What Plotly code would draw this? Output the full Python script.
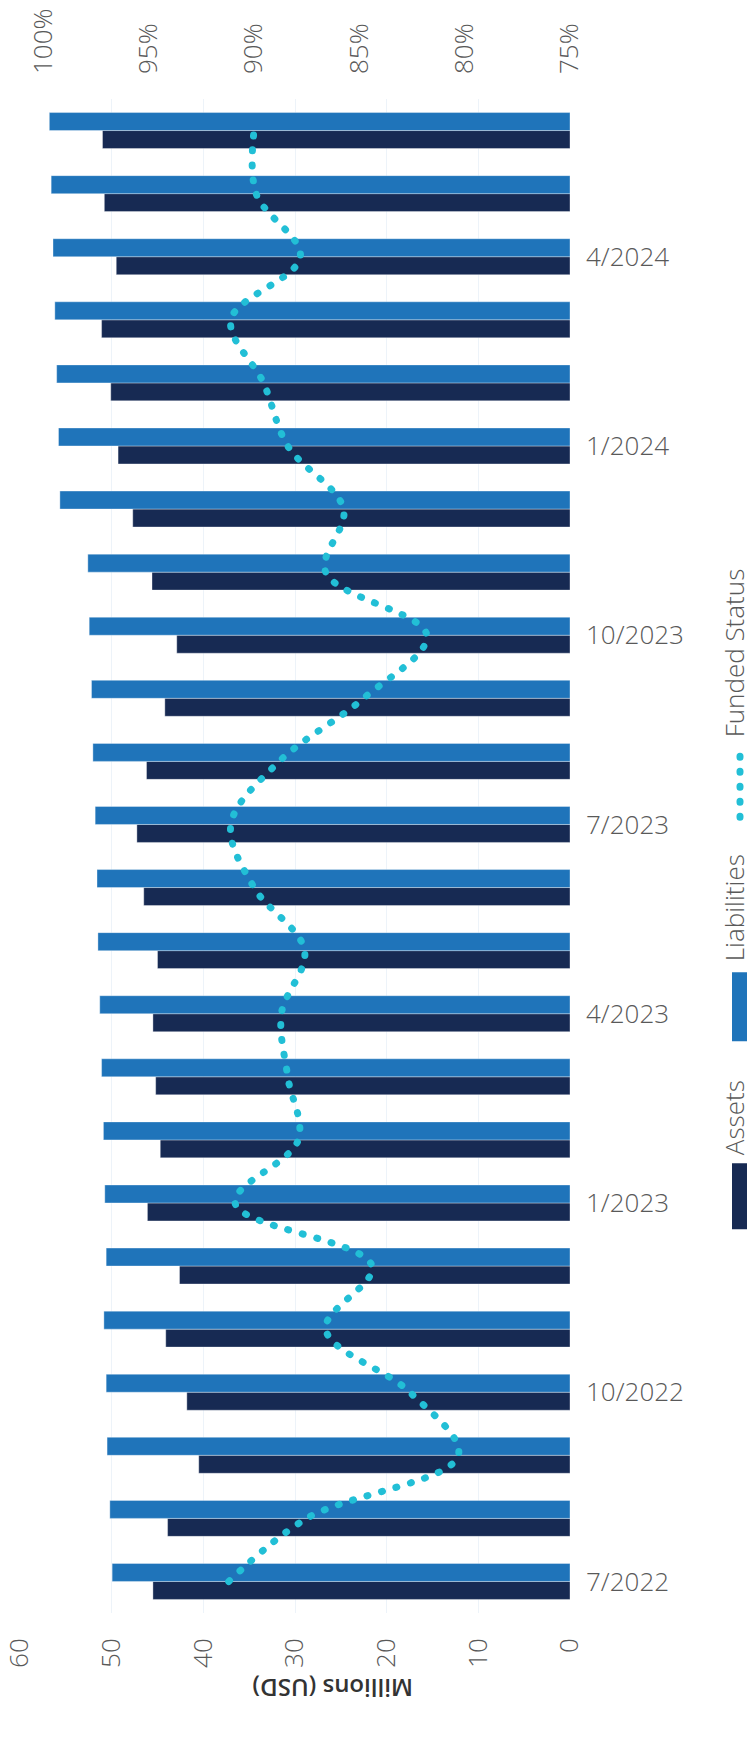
import plotly.graph_objects as go

# Month-end categories, oldest first (drawn bottom to top)
months = ["7/2022", "8/2022", "9/2022", "10/2022", "11/2022", "12/2022",
          "1/2023", "2/2023", "3/2023", "4/2023", "5/2023", "6/2023",
          "7/2023", "8/2023", "9/2023", "10/2023", "11/2023", "12/2023",
          "1/2024", "2/2024", "3/2024", "4/2024", "5/2024", "6/2024"]

# Millions of USD
assets = [45.5, 43.9, 40.5, 41.8, 44.1, 42.6,
          46.1, 44.7, 45.2, 45.5, 45.0, 46.5,
          47.25, 46.2, 44.2, 42.9, 45.6, 47.7,
          49.3, 50.1, 51.1, 49.5, 50.8, 51.0]
liabilities = [49.95, 50.2, 50.5, 50.6, 50.85, 50.6,
               50.75, 50.9, 51.1, 51.3, 51.5, 51.6,
               51.8, 52.05, 52.2, 52.45, 52.6, 55.65,
               55.8, 56.0, 56.2, 56.4, 56.6, 56.8]

# Percent
funded_status = [91.2, 87.5, 80.3, 82.6, 86.6, 84.4,
                 90.9, 87.9, 88.4, 88.7, 87.6, 90.0,
                 91.1, 88.8, 84.8, 81.8, 86.6, 85.75,
                 88.4, 89.55, 91.1, 87.8, 89.9, 90.0]

date_ticks = ["7/2022", "10/2022", "1/2023", "4/2023",
              "7/2023", "10/2023", "1/2024", "4/2024"]
value_ticks = [0, 10, 20, 30, 40, 50, 60]
pct_ticks = [75, 80, 85, 90, 95, 100]
pct_labels = ["75%", "80%", "85%", "90%", "95%", "100%"]

W, H = 752, 1737
M_L, M_R, M_T, M_B = 20, 182, 98.5, 124

NAVY = "#172a53"
BLUE = "#1f74ba"
CYAN = "#22bfd6"
GRID = "#edf3f9"
TXT = "#595959"
FONT = "Open Sans"


def px_x(x):
    return (x - M_L) / (W - M_L - M_R)


def px_y(y):
    return 1 - (y - M_T) / (H - M_T - M_B)


fig = go.Figure()

fig.add_trace(go.Bar(
    name="Assets", x=assets, y=months, orientation="h",
    marker=dict(color=NAVY, line=dict(color="rgba(255,255,255,0.35)", width=1)),
))
fig.add_trace(go.Bar(
    name="Liabilities", x=liabilities, y=months, orientation="h",
    marker=dict(color=BLUE, line=dict(color="rgba(255,255,255,0.35)", width=1)),
))
fig.add_trace(go.Scatter(
    name="Funded Status", x=funded_status, y=months, xaxis="x2",
    mode="lines",
    line=dict(color=CYAN, width=7, dash="1px,14px", shape="spline", smoothing=1),
))

tick_font = dict(family=FONT, size=26, color=TXT, weight=300)

fig.update_layout(
    width=W, height=H,
    margin=dict(l=M_L, r=M_R, t=M_T, b=M_B, autoexpand=False),
    paper_bgcolor="white", plot_bgcolor="white",
    barmode="group", bargap=0.43, bargroupgap=0,
    showlegend=False,
    font=dict(family=FONT, color=TXT),
    xaxis=dict(
        range=[60, 0], tickvals=value_ticks, tickangle=-90,
        showgrid=True, gridcolor=GRID, gridwidth=1,
        zeroline=False, showline=False, ticks="",
        tickfont=tick_font, ticklabelstandoff=19,
    ),
    xaxis2=dict(
        overlaying="x", side="top", range=[101.11, 75],
        tickmode="array", tickvals=pct_ticks, ticktext=pct_labels,
        tickangle=-90,
        showgrid=False, zeroline=False, showline=False, ticks="",
        tickfont=tick_font, ticklabelstandoff=24,
    ),
    yaxis=dict(
        type="category", categoryorder="array", categoryarray=months,
        range=[-0.5, len(months) - 0.5],
        side="right", tickmode="array", tickvals=date_ticks,
        showgrid=False, zeroline=False, showline=False, ticks="",
        tickfont=tick_font, ticklabelstandoff=15,
    ),
)

# Axis title, upside down under the value axis
fig.add_annotation(
    text="Millions (USD)", textangle=180, showarrow=False,
    xref="paper", yref="paper", x=px_x(333), y=px_y(1688),
    xanchor="center", yanchor="middle",
    font=dict(family=FONT, size=24, color="#333333", weight=600),
)

# Vertical legend along the right edge
legend_items = [
    ("Assets", 1118),
    ("Liabilities", 908),
    ("Funded Status", 653),
]
for label, cy in legend_items:
    fig.add_annotation(
        text=label, textangle=-90, showarrow=False,
        xref="paper", yref="paper", x=px_x(734), y=px_y(cy),
        xanchor="center", yanchor="middle",
        font=dict(family=FONT, size=26, color=TXT, weight=300),
    )

fig.add_shape(type="rect", xref="paper", yref="paper",
              x0=px_x(732), x1=px_x(747), y0=px_y(1229), y1=px_y(1163),
              fillcolor=NAVY, line=dict(width=0))
fig.add_shape(type="rect", xref="paper", yref="paper",
              x0=px_x(732), x1=px_x(747), y0=px_y(1041), y1=px_y(972),
              fillcolor=BLUE, line=dict(width=0))
fig.add_shape(type="line", xref="paper", yref="paper",
              x0=px_x(740), x1=px_x(740), y0=px_y(817), y1=px_y(754),
              line=dict(color=CYAN, width=7, dash="1px,14px"))

# Round the dash caps so the dotted series renders as dots
round_caps = """
var gd = document.getElementById('{plot_id}');
function roundCaps() {
  gd.querySelectorAll('path').forEach(function (p) {
    var d = p.style.strokeDasharray;
    if (d && d !== 'none') { p.style.strokeLinecap = 'round'; }
  });
}
roundCaps();
setTimeout(roundCaps, 0);
if (gd.on) { gd.on('plotly_afterplot', roundCaps); }
"""

fig.write_html("out.html", post_script=round_caps)
